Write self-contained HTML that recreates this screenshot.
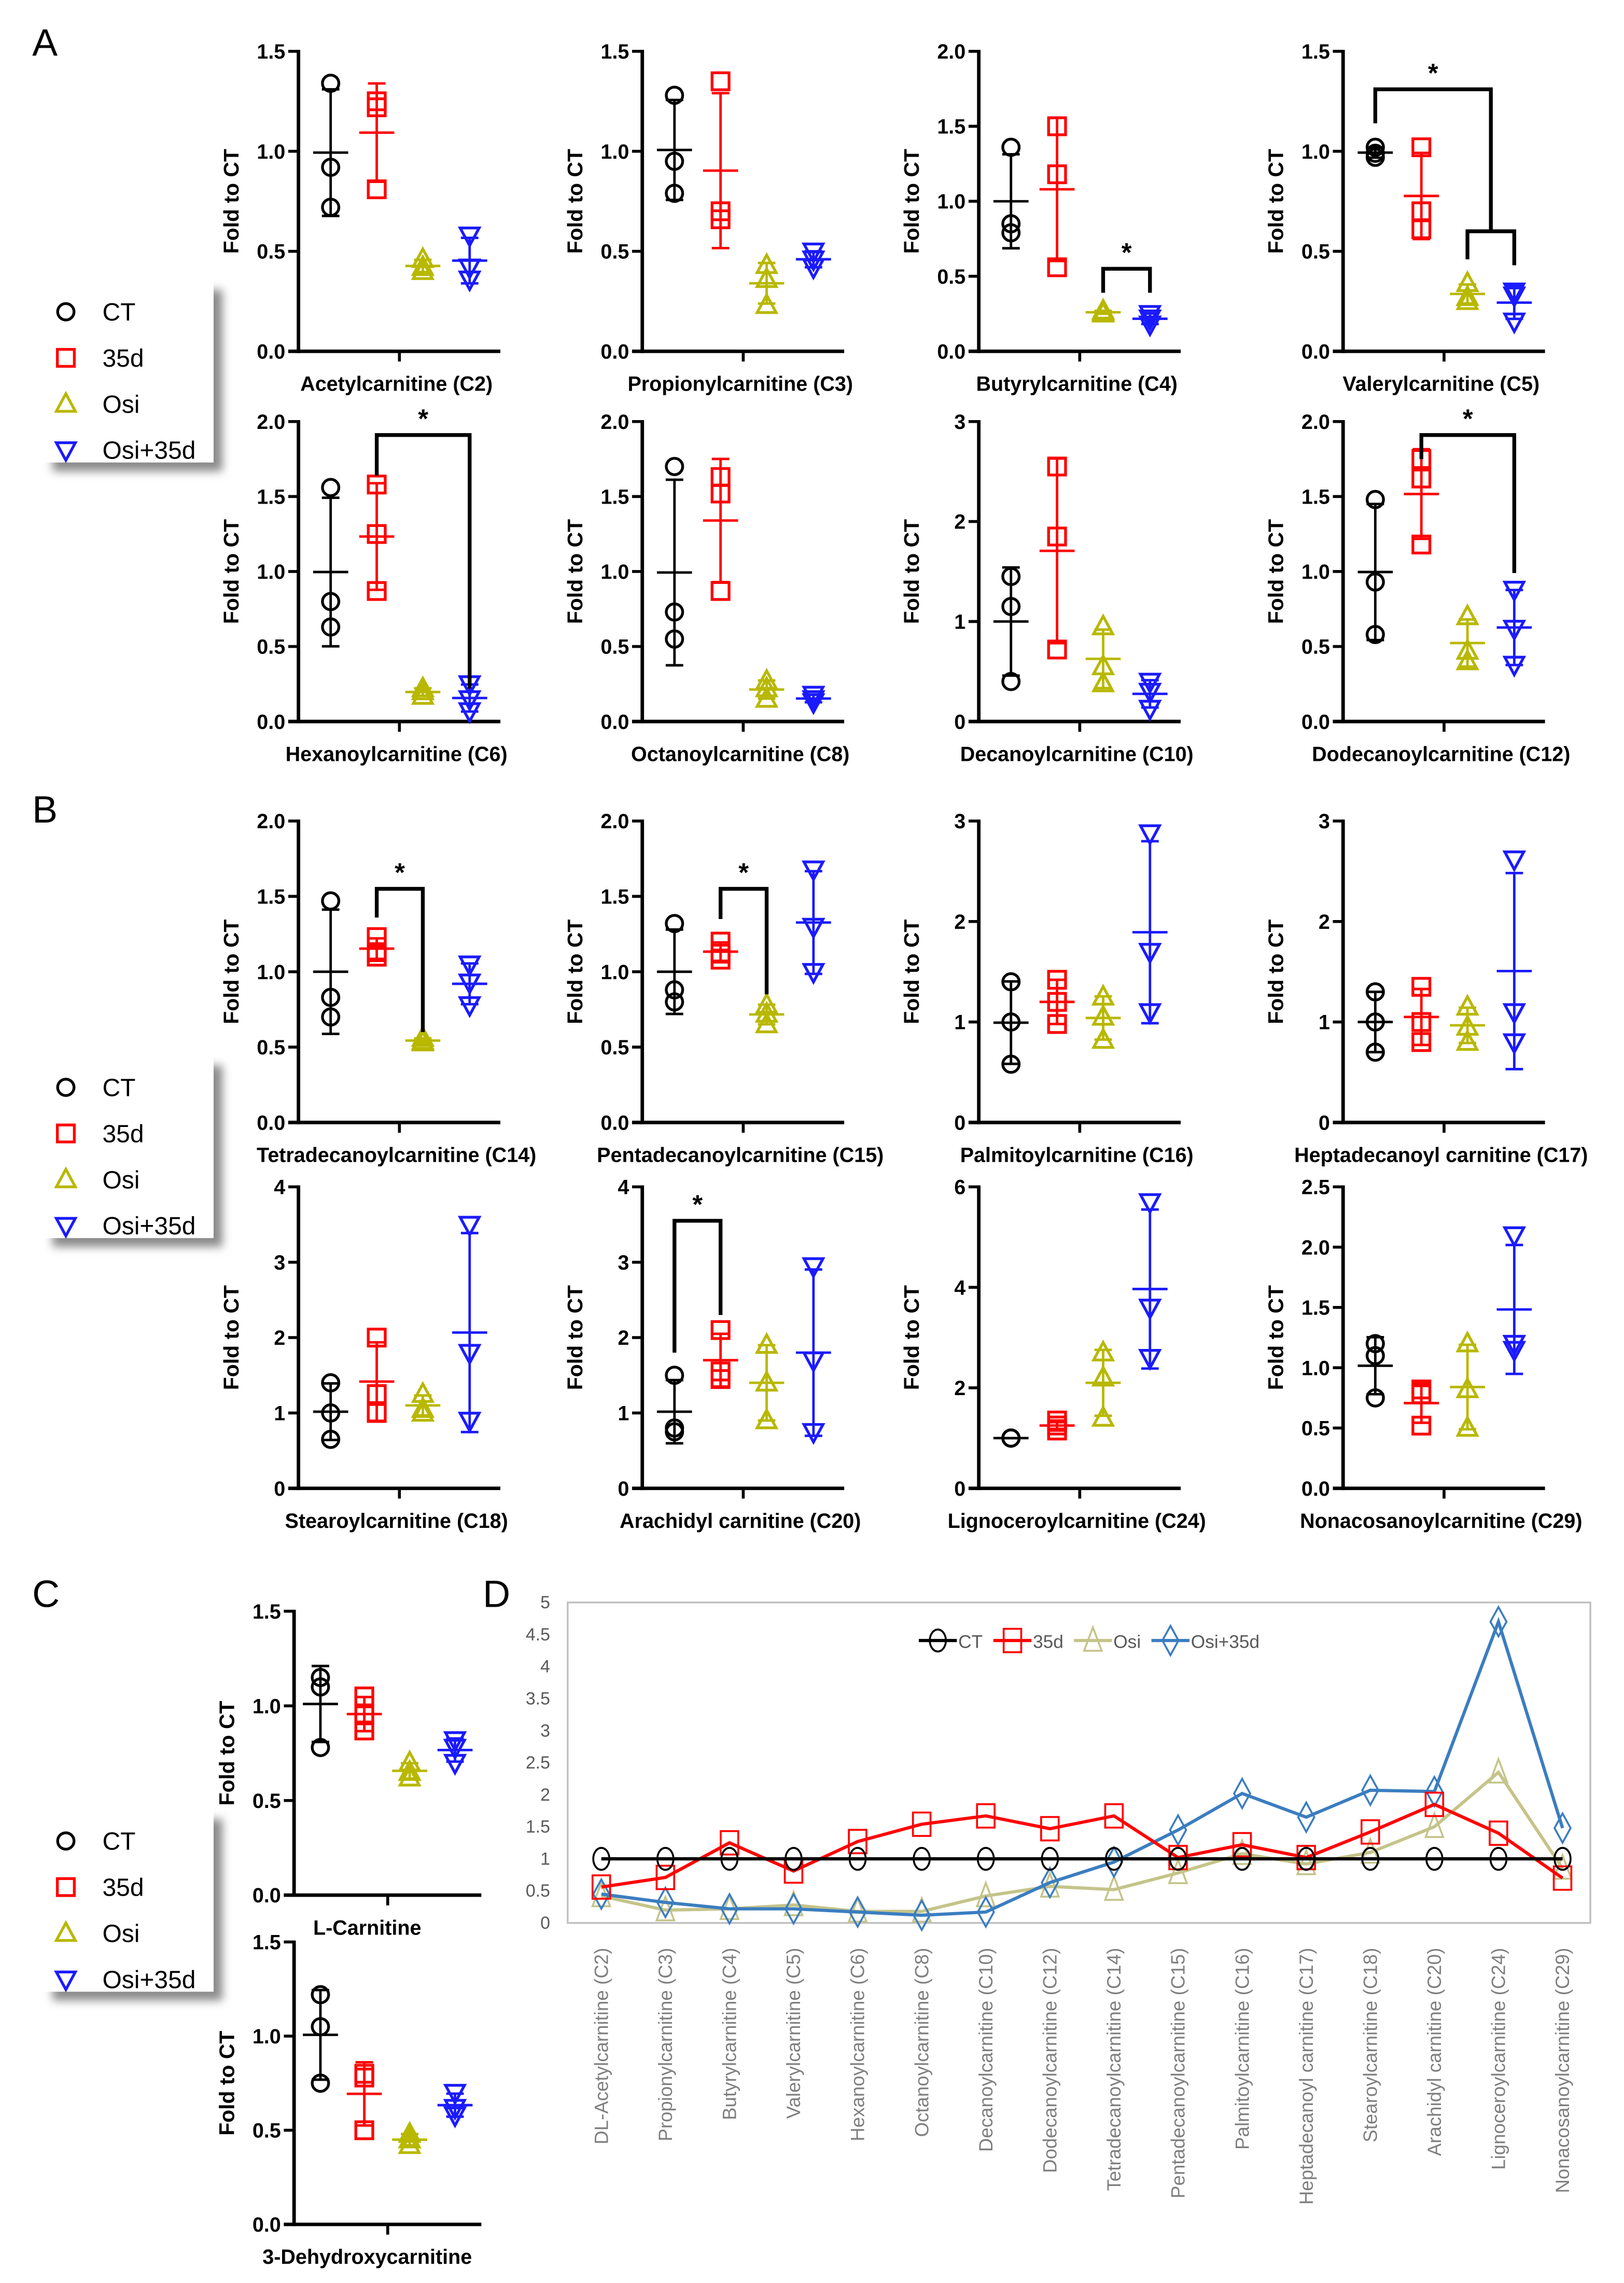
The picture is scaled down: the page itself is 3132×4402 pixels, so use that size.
<!DOCTYPE html>
<html><head><meta charset="utf-8"><style>
html,body{margin:0;padding:0;background:#fff}
svg{display:block}
text{font-family:"Liberation Sans",Arial,sans-serif}
</style></head><body>
<svg id="fig" xmlns="http://www.w3.org/2000/svg" width="3132" height="4402" viewBox="0 0 1110 1560">
<defs>
<filter id="sh" x="-20%" y="-20%" width="150%" height="150%"><feGaussianBlur stdDeviation="3"/></filter>
</defs>
<g id="legends"></g>
<g id="plots"></g>
<g id="panelD"></g>
</svg>
<script>
// ---------- Data: small dot plots ----------
const plotTitles = ["Acetylcarnitine (C2)","Propionylcarnitine (C3)","Butyrylcarnitine (C4)","Valerylcarnitine (C5)",
"Hexanoylcarnitine (C6)","Octanoylcarnitine (C8)","Decanoylcarnitine (C10)","Dodecanoylcarnitine (C12)",
"Tetradecanoylcarnitine (C14)","Pentadecanoylcarnitine (C15)","Palmitoylcarnitine (C16)","Heptadecanoyl carnitine (C17)",
"Stearoylcarnitine (C18)","Arachidyl carnitine (C20)","Lignoceroylcarnitine (C24)","Nonacosanoylcarnitine (C29)",
"L-Carnitine","3-Dehydroxycarnitine"];
const yMaxes = [1.5,1.5,2,1.5, 2,2,3,2, 2,2,3,3, 4,4,6,2.5, 1.5,1.5];
const yTickSteps = [0.5,0.5,0.5,0.5, 0.5,0.5,1,0.5, 0.5,0.5,1,1, 1,1,2,0.5, 0.5,0.5];
const tickDecimals = [1,1,1,1, 1,1,0,1, 1,1,0,0, 0,0,0,1, 1,1];
const ctVals = [[1.34,0.92,0.72],[1.28,0.95,0.79],[1.36,0.85,0.79],[1.02,0.99,0.97],
[1.56,0.80,0.63],[1.70,0.73,0.55],[1.45,1.15,0.40],[1.48,0.93,0.58],
[1.47,0.83,0.70],[1.32,0.88,0.80],[1.40,1.00,0.58],[1.30,1.00,0.70],
[1.40,1.00,0.65],[1.50,0.80,0.75],[1.00,1.00,1.00],[1.20,1.10,0.75],
[1.15,1.10,0.78],[1.22,1.05,0.75]];
const d35Vals = [[1.25,1.22,0.81],[1.35,0.70,0.66],[1.50,1.18,0.56],[1.02,0.70,0.61],
[1.58,1.25,0.87],[1.63,1.52,0.87],[2.55,1.85,0.72],[1.75,1.62,1.18],
[1.23,1.13,1.10],[1.20,1.12,1.08],[1.42,1.20,0.98],[1.35,1.00,0.80],
[2.00,1.25,1.00],[2.10,1.55,1.45],[1.35,1.25,1.15],[0.82,0.78,0.52],
[1.05,0.95,0.87],[0.80,0.78,0.50]];
const osiVals = [[0.46,0.42,0.40],[0.43,0.36,0.23],[0.27,0.26,0.25],[0.34,0.27,0.25],
[0.22,0.20,0.17],[0.27,0.22,0.15],[0.95,0.55,0.38],[0.70,0.47,0.40],
[0.56,0.54,0.53],[0.78,0.72,0.65],[1.25,1.05,0.82],[1.15,0.95,0.80],
[1.25,1.05,1.00],[1.90,1.40,0.90],[2.70,2.20,1.40],[1.20,0.82,0.50],
[0.70,0.65,0.62],[0.48,0.45,0.42]];
const comboVals = [[0.58,0.42,0.36],[0.50,0.46,0.42],[0.25,0.22,0.18],[0.30,0.28,0.15],
[0.25,0.15,0.07],[0.18,0.15,0.13],[0.40,0.30,0.13],[0.88,0.62,0.38],
[1.05,0.93,0.78],[1.68,1.30,1.00],[2.88,1.70,1.10],[2.62,1.10,0.80],
[3.50,1.80,0.90],[2.95,1.70,0.75],[5.70,3.60,2.60],[2.10,1.20,1.15],
[0.82,0.78,0.70],[0.70,0.62,0.58]];
// significance brackets: plot index, group a, group b, top value, leg a end, leg b end
const sigPlot = [2,3,3,4,7,8,9,13];
const sigA = [2,2,0,1,1,1,1,0];
const sigB = [3,3,2.5,3,3,2,2,1];
const sigTop = [0.55,0.60,1.31,1.91,1.91,1.55,1.55,3.55];
const sigLegA = [0.39,0.46,1.14,1.64,1.75,1.36,1.35,1.80];
const sigLegB = [0.39,0.43,0.60,0.22,0.99,0.60,0.85,2.30];
const sigStar = [1,0,1,1,1,1,1,1];

// ---------- Data: panel D ----------
const catsD = ["DL-Acetylcarnitine (C2)","Propionylcarnitine (C3)","Butyrylcarnitine (C4)","Valerylcarnitine (C5)","Hexanoylcarnitine (C6)","Octanoylcarnitine (C8)","Decanoylcarnitine (C10)","Dodecanoylcarnitine (C12)","Tetradecanoylcarnitine (C14)","Pentadecanoylcarnitine (C15)","Palmitoylcarnitine (C16)","Heptadecanoyl carnitine (C17)","Stearoylcarnitine (C18)","Arachidyl carnitine (C20)","Lignoceroylcarnitine (C24)","Nonacosanoylcarnitine (C29)"];
const ctD = [1,1,1,1,1,1,1,1,1,1,1,1,1,1,1,1];
const d35D = [0.56,0.71,1.25,0.81,1.27,1.54,1.67,1.47,1.67,1.02,1.22,1.02,1.42,1.85,1.40,0.70];
const osiD = [0.42,0.20,0.22,0.28,0.18,0.18,0.42,0.57,0.52,0.78,1.08,0.92,1.10,1.50,2.35,0.85];
const comboD = [0.45,0.32,0.22,0.22,0.17,0.12,0.17,0.63,0.95,1.45,2.02,1.65,2.07,2.05,4.70,1.48];
const ticksD = ["0","0.5","1","1.5","2","2.5","3","3.5","4","4.5","5"];
const seriesNamesD = ["CT","35d","Osi","Osi+35d"];

// ---------- Layout ----------
const NS = "http://www.w3.org/2000/svg";
const COLORS = ["#000000","#ff0000","#b8b800","#1a1aff"];
const GROUPS = ["ct","35d","osi","osi-35d"];
const colX = [204,439,669,918];
const rowY = [[35,240],[288,493],[561,767],[811,1017]];
function mk(tag, attrs, parent){const e=document.createElementNS(NS,tag);for(const k in attrs)e.setAttribute(k,attrs[k]);parent.appendChild(e);return e;}
function marker(g, type, cx, cy, color, parent){
  let e;
  if(type===0) e=mk("circle",{cx:cx,cy:cy,r:5.6,fill:"none",stroke:color,"stroke-width":1.9},parent);
  else if(type===1) e=mk("rect",{x:cx-5.8,y:cy-5.8,width:11.6,height:11.6,fill:"none",stroke:color,"stroke-width":1.9},parent);
  else if(type===2) e=mk("polygon",{points:`${cx},${cy-7} ${cx-6.5},${cy+5} ${cx+6.5},${cy+5}`,fill:"none",stroke:color,"stroke-width":1.9},parent);
  else e=mk("polygon",{points:`${cx},${cy+7} ${cx-6.5},${cy-5} ${cx+6.5},${cy-5}`,fill:"none",stroke:color,"stroke-width":1.9},parent);
  return e;
}
const svg=document.getElementById("fig");
const plotsG=document.getElementById("plots");
const legG=document.getElementById("legends");

// panel letters
[["A",22,38],["B",22,562],["C",22,1098],["D",330,1098]].forEach(p=>{
  const t=mk("text",{x:p[1],y:p[2],"font-size":26},svg);
  t.textContent=p[0];
  
  
});

// legends
const legNames=["CT","35d","Osi","Osi+35d"];
[[200,"a"],[730,"b"],[1245,"c"]].forEach(L=>{
  const g=mk("g",{},legG);
  
  
  mk("rect",{x:36,y:L[0]-2,width:116,height:124,fill:"#8a8a8a",filter:"url(#sh)"},g);
  mk("rect",{x:28,y:L[0]-10,width:118,height:126,fill:"#fff"},g);
  for(let i=0;i<4;i++){
    const y=L[0]+13+i*31.5;
    const m=marker(0,i,45,y,COLORS[i],g);
    
    
    const t=mk("text",{x:70,y:y+6,"font-size":17},g);
    t.textContent=legNames[i];
    
    
  }
});

function mean(a){return a.reduce((s,v)=>s+v,0)/a.length;}
function sd(a){const m=mean(a);return Math.sqrt(a.reduce((s,v)=>s+(v-m)*(v-m),0)/(a.length-1));}

const geo=[];
for(let p=0;p<plotTitles.length;p++){
  let ax,top,bot,w,offs;
  if(p<16){ax=colX[p%4];top=rowY[Math.floor(p/4)][0];bot=rowY[Math.floor(p/4)][1];w=138;offs=[22,53.5,85,117];}
  else {ax=201;top=p===16?1101:1327;bot=p===16?1295:1520;w=128;offs=[18,48,79,110];}
  const ymax=yMaxes[p];
  const Y=v=>bot-(v/ymax)*(bot-top);
  const X=g=>{const i=Math.floor(g),f=g-i;return ax+offs[i]+(f?f*(offs[i+1]-offs[i]):0);};
  geo.push({Y,X});
  const g=mk("g",{},plotsG);
  
  
  const yl=mk("line",{x1:ax,y1:top-1,x2:ax,y2:bot+1.2,stroke:"#000","stroke-width":2.4},g);
  
  
  const xl=mk("line",{x1:ax-7,y1:bot,x2:ax+w,y2:bot,stroke:"#000","stroke-width":2.4},g);
  
  
  const xt=mk("line",{x1:ax+w/2,y1:bot,x2:ax+w/2,y2:bot+7,stroke:"#000","stroke-width":2},g);
  
  
  const step=yTickSteps[p];
  for(let v=0;v<=ymax+1e-9;v+=step){
    const tk=mk("line",{x1:ax-7,y1:Y(v),x2:ax,y2:Y(v),stroke:"#000","stroke-width":2},g);
    
    
    const tl=mk("text",{x:ax-9,y:Y(v)+5,"font-size":14,"font-weight":"bold","text-anchor":"end"},g);
    tl.textContent=v.toFixed(tickDecimals[p]);
    
    
  }
  const yt=mk("text",{x:0,y:0,"font-size":14.5,"font-weight":"bold","text-anchor":"middle",transform:`translate(${ax-41},${(top+bot)/2}) rotate(-90)`},g);
  yt.textContent="Fold to CT";
  
  
  const xtt=mk("text",{x:ax+w/2-(p<16?2:14),y:bot+27,"font-size":14,"font-weight":"bold","text-anchor":"middle"},g);
  xtt.textContent=plotTitles[p];
  
  
  const sets=[ctVals[p],d35Vals[p],osiVals[p],comboVals[p]];
  for(let k=0;k<4;k++){
    const vals=sets[k],cx=X(k),c=COLORS[k];
    const m=mean(vals),s=sd(vals);
    const eb=mk("g",{stroke:c,"stroke-width":1.7},g);
    
    
    mk("line",{x1:cx,y1:Y(m+s),x2:cx,y2:Y(Math.max(0,m-s))},eb);
    mk("line",{x1:cx-6,y1:Y(m+s),x2:cx+6,y2:Y(m+s)},eb);
    mk("line",{x1:cx-6,y1:Y(Math.max(0,m-s)),x2:cx+6,y2:Y(Math.max(0,m-s))},eb);
    mk("line",{x1:cx-12,y1:Y(m),x2:cx+12,y2:Y(m)},eb);
    vals.forEach(v=>{
      const mm=marker(0,k,cx,Y(v),c,g);
      
      
    });
  }
}
// brackets
for(let i=0;i<sigPlot.length;i++){
  const G=geo[sigPlot[i]];
  const xa=G.X(sigA[i]),xb=G.X(sigB[i]),yt=G.Y(sigTop[i]);
  const br=mk("polyline",{points:`${xa},${G.Y(sigLegA[i])} ${xa},${yt} ${xb},${yt} ${xb},${G.Y(sigLegB[i])}`,fill:"none",stroke:"#000","stroke-width":2.6},plotsG);
  
  
  if(sigStar[i]){
    const st=mk("text",{x:(xa+xb)/2,y:yt-5,"font-size":18,"font-weight":"bold","text-anchor":"middle"},plotsG);
    st.textContent="*";
    
    
  }
}

// ---------- Panel D ----------
const D=document.getElementById("panelD");


const dL=388,dR=1087,dT=1095,dB=1314,dMax=5;
const YD=v=>dB-(v/dMax)*(dB-dT);
const XD=i=>411+i*(1068-411)/(catsD.length-1);
const box=mk("rect",{x:dL,y:dT,width:dR-dL,height:dB-dT,fill:"none",stroke:"#bfbfbf","stroke-width":1.2},D);


ticksD.forEach((t,i)=>{
  const tl=mk("text",{x:376,y:YD(parseFloat(t))+4,"font-size":12,fill:"#595959","text-anchor":"end"},D);
  tl.textContent=t;
  
  
});
catsD.forEach((c,i)=>{
  const tl=mk("text",{x:0,y:0,"font-size":13,fill:"#7f7f7f","text-anchor":"end",transform:`translate(${XD(i)+4.5},${1331}) rotate(-90)`},D);
  tl.textContent=c;
  
  
});
const seriesD=[ctD,d35D,osiD,comboD];
const colD=["#000000","#ff0000","#c4c48a","#3b7dc0"];
const mkD=[0,1,2,3];
function markerD(type,cx,cy,c,parent){
  if(type===0) return mk("ellipse",{cx:cx,cy:cy,rx:5.5,ry:7.5,fill:"none",stroke:c,"stroke-width":1.3},parent);
  if(type===1) return mk("rect",{x:cx-6,y:cy-8,width:12,height:16,fill:"none",stroke:c,"stroke-width":1.3},parent);
  if(type===2) return mk("polygon",{points:`${cx},${cy-9} ${cx-6},${cy+7} ${cx+6},${cy+7}`,fill:"none",stroke:c,"stroke-width":1.3},parent);
  return mk("polygon",{points:`${cx},${cy-10} ${cx-5.5},${cy} ${cx},${cy+10} ${cx+5.5},${cy}`,fill:"none",stroke:c,"stroke-width":1.3},parent);
}
[2,3,1,0].forEach(s=>{
  const g=mk("g",{},D);
  
  
  const pts=seriesD[s].map((v,i)=>`${XD(i)},${YD(v)}`).join(" ");
  const ln=mk("polyline",{points:pts,fill:"none",stroke:colD[s],"stroke-width":2.2},g);
  
  
  seriesD[s].forEach((v,i)=>{
    const m=markerD(mkD[s],XD(i),YD(v),colD[s],g);
    
    
  });
});
// legend D
const legX=[628,679,734,787];
const legG2=mk("g",{},D);


seriesNamesD.forEach((n,i)=>{
  const x=legX[i],y=1121;
  const l=mk("line",{x1:x,y1:y,x2:x+26,y2:y,stroke:colD[i],"stroke-width":2.2},legG2);
  
  
  const m=markerD(mkD[i],x+13,y,colD[i],legG2);
  
  
  const t=mk("text",{x:x+27,y:y+5,"font-size":12.5,fill:"#595959"},legG2);
  t.textContent=n;
  
  
});
</script>
</body></html>
